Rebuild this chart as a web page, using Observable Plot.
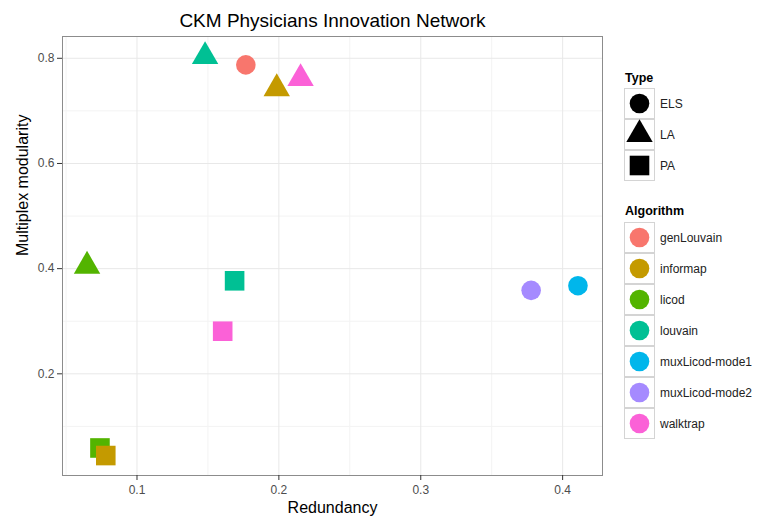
<!DOCTYPE html>
<html><head><meta charset="utf-8">
<script src="https://cdn.jsdelivr.net/npm/d3@7"></script>
<script src="https://cdn.jsdelivr.net/npm/@observablehq/plot@0.6"></script>
<style>
html,body{margin:0;padding:0;background:#fff;}
#wrap{position:relative;width:758px;height:520px;font-family:"Liberation Sans",Arial,sans-serif;}
#wrap svg{position:absolute;left:0;top:0;}
</style></head><body><div id="wrap"></div>
<script>
// ---- data ----
const algorithms = ["genLouvain","informap","licod","louvain","muxLicod-mode1","muxLicod-mode2","walktrap"];
const algorithmColors = ["#F8766D","#C49A00","#53B400","#00C094","#00B6EB","#A58AFF","#FB61D7"];
const types = ["ELS","LA","PA"];
const pointAlgorithm = ["genLouvain","louvain","informap","walktrap","licod","louvain","walktrap","licod","informap","muxLicod-mode2","muxLicod-mode1"];
const pointType = ["ELS","LA","LA","LA","LA","PA","PA","PA","PA","ELS","ELS"];
const redundancy = [0.1767,0.148,0.1985,0.2153,0.0648,0.1688,0.1604,0.0739,0.078,0.3778,0.4108];
const modularity = [0.7875,0.8035,0.7425,0.7618,0.405,0.3769,0.281,0.059,0.0446,0.3587,0.3676];
const xTicks = [0.1,0.2,0.3,0.4];
const xMinor = [0.05,0.15,0.25,0.35];
const yTicks = [0.2,0.4,0.6,0.8];
const yMinor = [0.1,0.3,0.5,0.7];
const titleText = "CKM Physicians Innovation Network";
const xTitle = "Redundancy";
const yTitle = "Multiplex modularity";

// ---- ggplot-like shapes ----
const ggCircle = {draw(ctx, size){ const r = Math.sqrt(size/Math.PI); ctx.moveTo(r,0); ctx.arc(0,0,r,0,2*Math.PI); ctx.closePath(); }};
const ggTriangle = {draw(ctx, size){ const r = Math.sqrt(size/Math.PI);
  const top = 1.5551*r, hw = 1.3468*r, bot = 0.7776*r;
  ctx.moveTo(0,-top); ctx.lineTo(hw,bot); ctx.lineTo(-hw,bot); ctx.closePath(); }};
const ggSquare = {draw(ctx, size){ const r = Math.sqrt(size/Math.PI); ctx.rect(-r,-r,2*r,2*r); }};
const typeShapes = [ggCircle, ggTriangle, ggSquare];

const rows = pointAlgorithm.map((a,i)=>({algorithm:a, type:pointType[i], redundancy:redundancy[i], modularity:modularity[i]}));
const expand = ([a,b]) => [a-(b-a)*0.05, b+(b-a)*0.05];
const R = 9.8;

const chart = Plot.plot({
  width:758, height:520,
  marginLeft:62, marginRight:156, marginTop:36, marginBottom:45,
  style:{fontFamily:"Liberation Sans, Arial, sans-serif", fontSize:"12px", background:"transparent", overflow:"visible"},
  x:{domain: expand(d3.extent(redundancy))},
  y:{domain: expand(d3.extent(modularity))},
  color:{domain: algorithms, range: algorithmColors},
  symbol:{domain: types, range: typeShapes},
  marks:[
    Plot.ruleX(xMinor,{stroke:"#f3f3f3", strokeWidth:1}),
    Plot.ruleY(yMinor,{stroke:"#f3f3f3", strokeWidth:1}),
    Plot.ruleX(xTicks,{stroke:"#e8e8e8", strokeWidth:1}),
    Plot.ruleY(yTicks,{stroke:"#e8e8e8", strokeWidth:1}),
    Plot.dot(rows,{x:"redundancy", y:"modularity", fill:"algorithm", symbol:"type", r:R, stroke:null}),
    Plot.frame({stroke:"#8c8c8c"}),
    Plot.axisX({ticks:xTicks, tickSize:5, tickPadding:5, tickFormat:d=>String(d), label:null, stroke:"#333", fill:"#4d4d4d", fontSize:12}),
    Plot.axisY({ticks:yTicks, tickSize:5, tickPadding:3, tickFormat:d=>String(d), label:null, stroke:"#333", fill:"#4d4d4d", fontSize:12}),
    Plot.text([titleText],{text:d=>d, frameAnchor:"top", lineAnchor:"middle", dy:-16, fontSize:19, fill:"black"}),
    Plot.text([xTitle],{text:d=>d, frameAnchor:"bottom", lineAnchor:"middle", dy:32, fontSize:16, fill:"black"}),
    Plot.text([yTitle],{text:d=>d, frameAnchor:"left", lineAnchor:"middle", dx:-40, rotate:-90, fontSize:16, fill:"black"})
  ]
});
document.getElementById("wrap").appendChild(chart);

// ---- legend ----
const color = chart.scale("color");
const leg = d3.select("#wrap").append("svg").attr("width",758).attr("height",520)
  .style("font-family","Liberation Sans, Arial, sans-serif");
const kx = 624, kw = 31;
function legendBlock(title, titleY, keyTop, items, symFor, fillFor){
  leg.append("text").attr("x",kx+1).attr("y",titleY+4.5).attr("font-size",12.5).attr("font-weight","bold").attr("fill","black").text(title);
  items.forEach((it,i)=>{
    const y0 = keyTop + kw*i;
    leg.append("rect").attr("x",kx+0.5).attr("y",y0+0.5).attr("width",kw-1).attr("height",kw-1).attr("fill","white").attr("stroke","#d4d4d4");
    leg.append("path").attr("transform",`translate(${kx+kw/2},${y0+kw/2})`)
      .attr("d", d3.symbol(symFor(it,i), Math.PI*R*R)()).attr("fill", fillFor(it,i));
    leg.append("text").attr("x",kx+kw+5).attr("y",y0+kw/2+4.3).attr("font-size",12).attr("fill","#222").text(it);
  });
}
legendBlock("Type", 77, 88, types, (t,i)=>typeShapes[i], ()=>"black");
legendBlock("Algorithm", 210, 222, algorithms, ()=>ggCircle, (a)=>color.apply(a));
</script></body></html>
